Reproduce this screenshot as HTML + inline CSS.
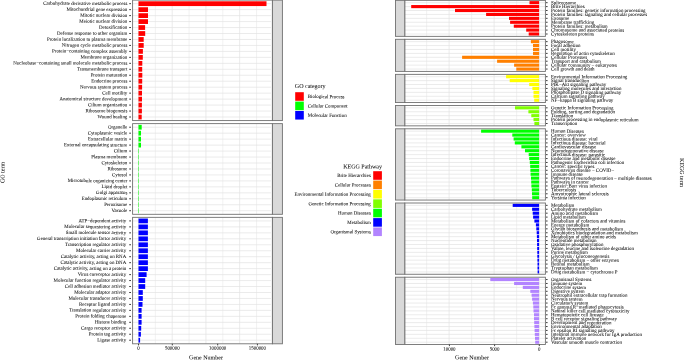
<!DOCTYPE html>
<html><head><meta charset="utf-8"><style>
html,body{margin:0;padding:0;background:#fff;}
svg{display:block;will-change:transform;}
text{font-family:"Liberation Serif",serif;font-size:4.92px;fill:#000000;stroke:#000000;stroke-width:0.15px;}
</style></head><body>
<svg width="685" height="360" viewBox="0 0 685 360">
<rect width="685" height="360" fill="#fff"/>
<rect x="132.6" y="0.10" width="139.80" height="120.49" fill="#fff"/>
<line x1="138.50" y1="0.10" x2="138.50" y2="120.59" stroke="#E2E2E2" stroke-width="0.7"/>
<line x1="155.36" y1="0.10" x2="155.36" y2="120.59" stroke="#E2E2E2" stroke-width="0.45"/>
<line x1="172.22" y1="0.10" x2="172.22" y2="120.59" stroke="#E2E2E2" stroke-width="0.7"/>
<line x1="189.08" y1="0.10" x2="189.08" y2="120.59" stroke="#E2E2E2" stroke-width="0.45"/>
<line x1="205.94" y1="0.10" x2="205.94" y2="120.59" stroke="#E2E2E2" stroke-width="0.7"/>
<line x1="222.80" y1="0.10" x2="222.80" y2="120.59" stroke="#E2E2E2" stroke-width="0.45"/>
<line x1="239.66" y1="0.10" x2="239.66" y2="120.59" stroke="#E2E2E2" stroke-width="0.7"/>
<line x1="256.52" y1="0.10" x2="256.52" y2="120.59" stroke="#E2E2E2" stroke-width="0.45"/>
<line x1="132.6" y1="3.68" x2="270.9" y2="3.68" stroke="#E2E2E2" stroke-width="0.7"/>
<line x1="132.6" y1="9.64" x2="270.9" y2="9.64" stroke="#E2E2E2" stroke-width="0.7"/>
<line x1="132.6" y1="15.61" x2="270.9" y2="15.61" stroke="#E2E2E2" stroke-width="0.7"/>
<line x1="132.6" y1="21.57" x2="270.9" y2="21.57" stroke="#E2E2E2" stroke-width="0.7"/>
<line x1="132.6" y1="27.54" x2="270.9" y2="27.54" stroke="#E2E2E2" stroke-width="0.7"/>
<line x1="132.6" y1="33.50" x2="270.9" y2="33.50" stroke="#E2E2E2" stroke-width="0.7"/>
<line x1="132.6" y1="39.47" x2="270.9" y2="39.47" stroke="#E2E2E2" stroke-width="0.7"/>
<line x1="132.6" y1="45.43" x2="270.9" y2="45.43" stroke="#E2E2E2" stroke-width="0.7"/>
<line x1="132.6" y1="51.40" x2="270.9" y2="51.40" stroke="#E2E2E2" stroke-width="0.7"/>
<line x1="132.6" y1="57.36" x2="270.9" y2="57.36" stroke="#E2E2E2" stroke-width="0.7"/>
<line x1="132.6" y1="63.33" x2="270.9" y2="63.33" stroke="#E2E2E2" stroke-width="0.7"/>
<line x1="132.6" y1="69.29" x2="270.9" y2="69.29" stroke="#E2E2E2" stroke-width="0.7"/>
<line x1="132.6" y1="75.26" x2="270.9" y2="75.26" stroke="#E2E2E2" stroke-width="0.7"/>
<line x1="132.6" y1="81.22" x2="270.9" y2="81.22" stroke="#E2E2E2" stroke-width="0.7"/>
<line x1="132.6" y1="87.19" x2="270.9" y2="87.19" stroke="#E2E2E2" stroke-width="0.7"/>
<line x1="132.6" y1="93.15" x2="270.9" y2="93.15" stroke="#E2E2E2" stroke-width="0.7"/>
<line x1="132.6" y1="99.12" x2="270.9" y2="99.12" stroke="#E2E2E2" stroke-width="0.7"/>
<line x1="132.6" y1="105.08" x2="270.9" y2="105.08" stroke="#E2E2E2" stroke-width="0.7"/>
<line x1="132.6" y1="111.05" x2="270.9" y2="111.05" stroke="#E2E2E2" stroke-width="0.7"/>
<line x1="132.6" y1="117.01" x2="270.9" y2="117.01" stroke="#E2E2E2" stroke-width="0.7"/>
<rect x="138.5" y="1.29" width="128.00" height="4.77" fill="#FF0000"/>
<line x1="129.2" y1="3.68" x2="131" y2="3.68" stroke="#2a2a2a" stroke-width="0.9"/>
<text transform="translate(127.30,4.98) rotate(0.1) scale(0.25)" style="font-size:19.68px" text-anchor="end">Carbohydrate derivative metabolic process</text>
<rect x="138.5" y="7.26" width="9.50" height="4.77" fill="#FF0000"/>
<line x1="129.2" y1="9.64" x2="131" y2="9.64" stroke="#2a2a2a" stroke-width="0.9"/>
<text transform="translate(127.30,10.94) rotate(0.1) scale(0.25)" style="font-size:19.68px" text-anchor="end">Mitochondrial gene expression</text>
<rect x="138.5" y="13.22" width="9.50" height="4.77" fill="#FF0000"/>
<line x1="129.2" y1="15.61" x2="131" y2="15.61" stroke="#2a2a2a" stroke-width="0.9"/>
<text transform="translate(127.30,16.91) rotate(0.1) scale(0.25)" style="font-size:19.68px" text-anchor="end">Mitotic nuclear division</text>
<rect x="138.5" y="19.19" width="9.50" height="4.77" fill="#FF0000"/>
<line x1="129.2" y1="21.57" x2="131" y2="21.57" stroke="#2a2a2a" stroke-width="0.9"/>
<text transform="translate(127.30,22.87) rotate(0.1) scale(0.25)" style="font-size:19.68px" text-anchor="end">Meiotic nuclear division</text>
<rect x="138.5" y="25.15" width="6.60" height="4.77" fill="#FF0000"/>
<line x1="129.2" y1="27.54" x2="131" y2="27.54" stroke="#2a2a2a" stroke-width="0.9"/>
<text transform="translate(127.30,28.84) rotate(0.1) scale(0.25)" style="font-size:19.68px" text-anchor="end">Detoxification</text>
<rect x="138.5" y="31.12" width="6.70" height="4.77" fill="#FF0000"/>
<line x1="129.2" y1="33.50" x2="131" y2="33.50" stroke="#2a2a2a" stroke-width="0.9"/>
<text transform="translate(127.30,34.80) rotate(0.1) scale(0.25)" style="font-size:19.68px" text-anchor="end">Defense response to other organism</text>
<rect x="138.5" y="37.08" width="5.20" height="4.77" fill="#FF0000"/>
<line x1="129.2" y1="39.47" x2="131" y2="39.47" stroke="#2a2a2a" stroke-width="0.9"/>
<text transform="translate(127.30,40.77) rotate(0.1) scale(0.25)" style="font-size:19.68px" text-anchor="end">Protein localization to plasma membrane</text>
<rect x="138.5" y="43.05" width="5.20" height="4.77" fill="#FF0000"/>
<line x1="129.2" y1="45.43" x2="131" y2="45.43" stroke="#2a2a2a" stroke-width="0.9"/>
<text transform="translate(127.30,46.73) rotate(0.1) scale(0.25)" style="font-size:19.68px" text-anchor="end">Nitrogen cycle metabolic process</text>
<rect x="138.5" y="49.01" width="4.40" height="4.77" fill="#FF0000"/>
<line x1="129.2" y1="51.40" x2="131" y2="51.40" stroke="#2a2a2a" stroke-width="0.9"/>
<text transform="translate(127.30,52.70) rotate(0.1) scale(0.25)" style="font-size:19.68px" text-anchor="end">Protein−containing complex assembly</text>
<rect x="138.5" y="54.98" width="4.30" height="4.77" fill="#FF0000"/>
<line x1="129.2" y1="57.36" x2="131" y2="57.36" stroke="#2a2a2a" stroke-width="0.9"/>
<text transform="translate(127.30,58.66) rotate(0.1) scale(0.25)" style="font-size:19.68px" text-anchor="end">Membrane organization</text>
<rect x="138.5" y="60.94" width="3.80" height="4.77" fill="#FF0000"/>
<line x1="129.2" y1="63.33" x2="131" y2="63.33" stroke="#2a2a2a" stroke-width="0.9"/>
<text transform="translate(127.30,64.63) rotate(0.1) scale(0.25)" style="font-size:19.68px" text-anchor="end">Nucleobase−containing small molecule metabolic process</text>
<rect x="138.5" y="66.91" width="3.70" height="4.77" fill="#FF0000"/>
<line x1="129.2" y1="69.29" x2="131" y2="69.29" stroke="#2a2a2a" stroke-width="0.9"/>
<text transform="translate(127.30,70.59) rotate(0.1) scale(0.25)" style="font-size:19.68px" text-anchor="end">Transmembrane transport</text>
<rect x="138.5" y="72.87" width="3.80" height="4.77" fill="#FF0000"/>
<line x1="129.2" y1="75.26" x2="131" y2="75.26" stroke="#2a2a2a" stroke-width="0.9"/>
<text transform="translate(127.30,76.56) rotate(0.1) scale(0.25)" style="font-size:19.68px" text-anchor="end">Protein maturation</text>
<rect x="138.5" y="78.84" width="3.70" height="4.77" fill="#FF0000"/>
<line x1="129.2" y1="81.22" x2="131" y2="81.22" stroke="#2a2a2a" stroke-width="0.9"/>
<text transform="translate(127.30,82.52) rotate(0.1) scale(0.25)" style="font-size:19.68px" text-anchor="end">Endocrine process</text>
<rect x="138.5" y="84.80" width="3.60" height="4.77" fill="#FF0000"/>
<line x1="129.2" y1="87.19" x2="131" y2="87.19" stroke="#2a2a2a" stroke-width="0.9"/>
<text transform="translate(127.30,88.49) rotate(0.1) scale(0.25)" style="font-size:19.68px" text-anchor="end">Nervous system process</text>
<rect x="138.5" y="90.77" width="3.50" height="4.77" fill="#FF0000"/>
<line x1="129.2" y1="93.15" x2="131" y2="93.15" stroke="#2a2a2a" stroke-width="0.9"/>
<text transform="translate(127.30,94.45) rotate(0.1) scale(0.25)" style="font-size:19.68px" text-anchor="end">Cell motility</text>
<rect x="138.5" y="96.73" width="3.50" height="4.77" fill="#FF0000"/>
<line x1="129.2" y1="99.12" x2="131" y2="99.12" stroke="#2a2a2a" stroke-width="0.9"/>
<text transform="translate(127.30,100.42) rotate(0.1) scale(0.25)" style="font-size:19.68px" text-anchor="end">Anatomical structure development</text>
<rect x="138.5" y="102.70" width="3.40" height="4.77" fill="#FF0000"/>
<line x1="129.2" y1="105.08" x2="131" y2="105.08" stroke="#2a2a2a" stroke-width="0.9"/>
<text transform="translate(127.30,106.38) rotate(0.1) scale(0.25)" style="font-size:19.68px" text-anchor="end">Cilium organization</text>
<rect x="138.5" y="108.66" width="3.40" height="4.77" fill="#FF0000"/>
<line x1="129.2" y1="111.05" x2="131" y2="111.05" stroke="#2a2a2a" stroke-width="0.9"/>
<text transform="translate(127.30,112.35) rotate(0.1) scale(0.25)" style="font-size:19.68px" text-anchor="end">Ribosome biogenesis</text>
<rect x="138.5" y="114.63" width="3.20" height="4.77" fill="#FF0000"/>
<line x1="129.2" y1="117.01" x2="131" y2="117.01" stroke="#2a2a2a" stroke-width="0.9"/>
<text transform="translate(127.30,118.31) rotate(0.1) scale(0.25)" style="font-size:19.68px" text-anchor="end">Wound healing</text>
<rect x="132.6" y="0.10" width="139.80" height="120.49" fill="none" stroke="#707070" stroke-width="0.9"/>
<rect x="272.4" y="0.10" width="10.00" height="120.49" fill="#D9D9D9" stroke="#707070" stroke-width="0.9"/>
<rect x="132.6" y="123.63" width="139.80" height="90.67" fill="#fff"/>
<line x1="138.50" y1="123.63" x2="138.50" y2="214.30" stroke="#E2E2E2" stroke-width="0.7"/>
<line x1="155.36" y1="123.63" x2="155.36" y2="214.30" stroke="#E2E2E2" stroke-width="0.45"/>
<line x1="172.22" y1="123.63" x2="172.22" y2="214.30" stroke="#E2E2E2" stroke-width="0.7"/>
<line x1="189.08" y1="123.63" x2="189.08" y2="214.30" stroke="#E2E2E2" stroke-width="0.45"/>
<line x1="205.94" y1="123.63" x2="205.94" y2="214.30" stroke="#E2E2E2" stroke-width="0.7"/>
<line x1="222.80" y1="123.63" x2="222.80" y2="214.30" stroke="#E2E2E2" stroke-width="0.45"/>
<line x1="239.66" y1="123.63" x2="239.66" y2="214.30" stroke="#E2E2E2" stroke-width="0.7"/>
<line x1="256.52" y1="123.63" x2="256.52" y2="214.30" stroke="#E2E2E2" stroke-width="0.45"/>
<line x1="132.6" y1="127.21" x2="270.9" y2="127.21" stroke="#E2E2E2" stroke-width="0.7"/>
<line x1="132.6" y1="133.18" x2="270.9" y2="133.18" stroke="#E2E2E2" stroke-width="0.7"/>
<line x1="132.6" y1="139.14" x2="270.9" y2="139.14" stroke="#E2E2E2" stroke-width="0.7"/>
<line x1="132.6" y1="145.11" x2="270.9" y2="145.11" stroke="#E2E2E2" stroke-width="0.7"/>
<line x1="132.6" y1="151.07" x2="270.9" y2="151.07" stroke="#E2E2E2" stroke-width="0.7"/>
<line x1="132.6" y1="157.04" x2="270.9" y2="157.04" stroke="#E2E2E2" stroke-width="0.7"/>
<line x1="132.6" y1="163.00" x2="270.9" y2="163.00" stroke="#E2E2E2" stroke-width="0.7"/>
<line x1="132.6" y1="168.97" x2="270.9" y2="168.97" stroke="#E2E2E2" stroke-width="0.7"/>
<line x1="132.6" y1="174.93" x2="270.9" y2="174.93" stroke="#E2E2E2" stroke-width="0.7"/>
<line x1="132.6" y1="180.90" x2="270.9" y2="180.90" stroke="#E2E2E2" stroke-width="0.7"/>
<line x1="132.6" y1="186.86" x2="270.9" y2="186.86" stroke="#E2E2E2" stroke-width="0.7"/>
<line x1="132.6" y1="192.83" x2="270.9" y2="192.83" stroke="#E2E2E2" stroke-width="0.7"/>
<line x1="132.6" y1="198.79" x2="270.9" y2="198.79" stroke="#E2E2E2" stroke-width="0.7"/>
<line x1="132.6" y1="204.76" x2="270.9" y2="204.76" stroke="#E2E2E2" stroke-width="0.7"/>
<line x1="132.6" y1="210.72" x2="270.9" y2="210.72" stroke="#E2E2E2" stroke-width="0.7"/>
<rect x="138.5" y="124.83" width="3.20" height="4.77" fill="#00FF00"/>
<line x1="129.2" y1="127.21" x2="131" y2="127.21" stroke="#2a2a2a" stroke-width="0.9"/>
<text transform="translate(127.30,128.51) rotate(0.1) scale(0.25)" style="font-size:19.68px" text-anchor="end">Organelle</text>
<rect x="138.5" y="130.79" width="2.50" height="4.77" fill="#00FF00"/>
<line x1="129.2" y1="133.18" x2="131" y2="133.18" stroke="#2a2a2a" stroke-width="0.9"/>
<text transform="translate(127.30,134.48) rotate(0.1) scale(0.25)" style="font-size:19.68px" text-anchor="end">Cytoplasmic vesicle</text>
<rect x="138.5" y="136.76" width="2.50" height="4.77" fill="#00FF00"/>
<line x1="129.2" y1="139.14" x2="131" y2="139.14" stroke="#2a2a2a" stroke-width="0.9"/>
<text transform="translate(127.30,140.44) rotate(0.1) scale(0.25)" style="font-size:19.68px" text-anchor="end">Extracellular matrix</text>
<rect x="138.5" y="142.72" width="2.50" height="4.77" fill="#00FF00"/>
<line x1="129.2" y1="145.11" x2="131" y2="145.11" stroke="#2a2a2a" stroke-width="0.9"/>
<text transform="translate(127.30,146.41) rotate(0.1) scale(0.25)" style="font-size:19.68px" text-anchor="end">External encapsulating structure</text>
<rect x="138.5" y="148.69" width="0.50" height="4.77" fill="#00FF00"/>
<line x1="129.2" y1="151.07" x2="131" y2="151.07" stroke="#2a2a2a" stroke-width="0.9"/>
<text transform="translate(127.30,152.37) rotate(0.1) scale(0.25)" style="font-size:19.68px" text-anchor="end">Cilium</text>
<rect x="138.5" y="154.65" width="0.50" height="4.77" fill="#00FF00"/>
<line x1="129.2" y1="157.04" x2="131" y2="157.04" stroke="#2a2a2a" stroke-width="0.9"/>
<text transform="translate(127.30,158.34) rotate(0.1) scale(0.25)" style="font-size:19.68px" text-anchor="end">Plasma membrane</text>
<rect x="138.5" y="160.62" width="0.50" height="4.77" fill="#00FF00"/>
<line x1="129.2" y1="163.00" x2="131" y2="163.00" stroke="#2a2a2a" stroke-width="0.9"/>
<text transform="translate(127.30,164.30) rotate(0.1) scale(0.25)" style="font-size:19.68px" text-anchor="end">Cytoskeleton</text>
<rect x="138.5" y="166.58" width="0.50" height="4.77" fill="#00FF00"/>
<line x1="129.2" y1="168.97" x2="131" y2="168.97" stroke="#2a2a2a" stroke-width="0.9"/>
<text transform="translate(127.30,170.27) rotate(0.1) scale(0.25)" style="font-size:19.68px" text-anchor="end">Ribosome</text>
<rect x="138.5" y="172.55" width="0.50" height="4.77" fill="#00FF00"/>
<line x1="129.2" y1="174.93" x2="131" y2="174.93" stroke="#2a2a2a" stroke-width="0.9"/>
<text transform="translate(127.30,176.23) rotate(0.1) scale(0.25)" style="font-size:19.68px" text-anchor="end">Cytosol</text>
<rect x="138.5" y="178.51" width="0.50" height="4.77" fill="#00FF00"/>
<line x1="129.2" y1="180.90" x2="131" y2="180.90" stroke="#2a2a2a" stroke-width="0.9"/>
<text transform="translate(127.30,182.20) rotate(0.1) scale(0.25)" style="font-size:19.68px" text-anchor="end">Microtubule organizing center</text>
<rect x="138.5" y="184.48" width="0.50" height="4.77" fill="#00FF00"/>
<line x1="129.2" y1="186.86" x2="131" y2="186.86" stroke="#2a2a2a" stroke-width="0.9"/>
<text transform="translate(127.30,188.16) rotate(0.1) scale(0.25)" style="font-size:19.68px" text-anchor="end">Lipid droplet</text>
<rect x="138.5" y="190.44" width="0.50" height="4.77" fill="#00FF00"/>
<line x1="129.2" y1="192.83" x2="131" y2="192.83" stroke="#2a2a2a" stroke-width="0.9"/>
<text transform="translate(127.30,194.13) rotate(0.1) scale(0.25)" style="font-size:19.68px" text-anchor="end">Golgi apparatus</text>
<rect x="138.5" y="196.41" width="0.50" height="4.77" fill="#00FF00"/>
<line x1="129.2" y1="198.79" x2="131" y2="198.79" stroke="#2a2a2a" stroke-width="0.9"/>
<text transform="translate(127.30,200.09) rotate(0.1) scale(0.25)" style="font-size:19.68px" text-anchor="end">Endoplasmic reticulum</text>
<rect x="138.5" y="202.37" width="0.50" height="4.77" fill="#00FF00"/>
<line x1="129.2" y1="204.76" x2="131" y2="204.76" stroke="#2a2a2a" stroke-width="0.9"/>
<text transform="translate(127.30,206.06) rotate(0.1) scale(0.25)" style="font-size:19.68px" text-anchor="end">Peroxisome</text>
<rect x="138.5" y="208.34" width="0.50" height="4.77" fill="#00FF00"/>
<line x1="129.2" y1="210.72" x2="131" y2="210.72" stroke="#2a2a2a" stroke-width="0.9"/>
<text transform="translate(127.30,212.02) rotate(0.1) scale(0.25)" style="font-size:19.68px" text-anchor="end">Vacuole</text>
<rect x="132.6" y="123.63" width="139.80" height="90.67" fill="none" stroke="#707070" stroke-width="0.9"/>
<rect x="272.4" y="123.63" width="10.00" height="90.67" fill="#D9D9D9" stroke="#707070" stroke-width="0.9"/>
<rect x="132.6" y="217.34" width="139.80" height="126.46" fill="#fff"/>
<line x1="138.50" y1="217.34" x2="138.50" y2="343.80" stroke="#E2E2E2" stroke-width="0.7"/>
<line x1="155.36" y1="217.34" x2="155.36" y2="343.80" stroke="#E2E2E2" stroke-width="0.45"/>
<line x1="172.22" y1="217.34" x2="172.22" y2="343.80" stroke="#E2E2E2" stroke-width="0.7"/>
<line x1="189.08" y1="217.34" x2="189.08" y2="343.80" stroke="#E2E2E2" stroke-width="0.45"/>
<line x1="205.94" y1="217.34" x2="205.94" y2="343.80" stroke="#E2E2E2" stroke-width="0.7"/>
<line x1="222.80" y1="217.34" x2="222.80" y2="343.80" stroke="#E2E2E2" stroke-width="0.45"/>
<line x1="239.66" y1="217.34" x2="239.66" y2="343.80" stroke="#E2E2E2" stroke-width="0.7"/>
<line x1="256.52" y1="217.34" x2="256.52" y2="343.80" stroke="#E2E2E2" stroke-width="0.45"/>
<line x1="132.6" y1="220.92" x2="270.9" y2="220.92" stroke="#E2E2E2" stroke-width="0.7"/>
<line x1="132.6" y1="226.89" x2="270.9" y2="226.89" stroke="#E2E2E2" stroke-width="0.7"/>
<line x1="132.6" y1="232.85" x2="270.9" y2="232.85" stroke="#E2E2E2" stroke-width="0.7"/>
<line x1="132.6" y1="238.81" x2="270.9" y2="238.81" stroke="#E2E2E2" stroke-width="0.7"/>
<line x1="132.6" y1="244.78" x2="270.9" y2="244.78" stroke="#E2E2E2" stroke-width="0.7"/>
<line x1="132.6" y1="250.75" x2="270.9" y2="250.75" stroke="#E2E2E2" stroke-width="0.7"/>
<line x1="132.6" y1="256.71" x2="270.9" y2="256.71" stroke="#E2E2E2" stroke-width="0.7"/>
<line x1="132.6" y1="262.68" x2="270.9" y2="262.68" stroke="#E2E2E2" stroke-width="0.7"/>
<line x1="132.6" y1="268.64" x2="270.9" y2="268.64" stroke="#E2E2E2" stroke-width="0.7"/>
<line x1="132.6" y1="274.61" x2="270.9" y2="274.61" stroke="#E2E2E2" stroke-width="0.7"/>
<line x1="132.6" y1="280.57" x2="270.9" y2="280.57" stroke="#E2E2E2" stroke-width="0.7"/>
<line x1="132.6" y1="286.53" x2="270.9" y2="286.53" stroke="#E2E2E2" stroke-width="0.7"/>
<line x1="132.6" y1="292.50" x2="270.9" y2="292.50" stroke="#E2E2E2" stroke-width="0.7"/>
<line x1="132.6" y1="298.46" x2="270.9" y2="298.46" stroke="#E2E2E2" stroke-width="0.7"/>
<line x1="132.6" y1="304.43" x2="270.9" y2="304.43" stroke="#E2E2E2" stroke-width="0.7"/>
<line x1="132.6" y1="310.39" x2="270.9" y2="310.39" stroke="#E2E2E2" stroke-width="0.7"/>
<line x1="132.6" y1="316.36" x2="270.9" y2="316.36" stroke="#E2E2E2" stroke-width="0.7"/>
<line x1="132.6" y1="322.32" x2="270.9" y2="322.32" stroke="#E2E2E2" stroke-width="0.7"/>
<line x1="132.6" y1="328.29" x2="270.9" y2="328.29" stroke="#E2E2E2" stroke-width="0.7"/>
<line x1="132.6" y1="334.25" x2="270.9" y2="334.25" stroke="#E2E2E2" stroke-width="0.7"/>
<line x1="132.6" y1="340.22" x2="270.9" y2="340.22" stroke="#E2E2E2" stroke-width="0.7"/>
<rect x="138.5" y="218.53" width="9.40" height="4.77" fill="#0000FF"/>
<line x1="129.2" y1="220.92" x2="131" y2="220.92" stroke="#2a2a2a" stroke-width="0.9"/>
<text transform="translate(126.20,222.22) rotate(0.1) scale(0.25)" style="font-size:19.68px" text-anchor="end">ATP−dependent activity</text>
<rect x="138.5" y="224.50" width="9.40" height="4.77" fill="#0000FF"/>
<line x1="129.2" y1="226.89" x2="131" y2="226.89" stroke="#2a2a2a" stroke-width="0.9"/>
<text transform="translate(126.20,228.19) rotate(0.1) scale(0.25)" style="font-size:19.68px" text-anchor="end">Molecular sequestering activity</text>
<rect x="138.5" y="230.46" width="9.40" height="4.77" fill="#0000FF"/>
<line x1="129.2" y1="232.85" x2="131" y2="232.85" stroke="#2a2a2a" stroke-width="0.9"/>
<text transform="translate(126.20,234.15) rotate(0.1) scale(0.25)" style="font-size:19.68px" text-anchor="end">Small molecule sensor activity</text>
<rect x="138.5" y="236.43" width="9.40" height="4.77" fill="#0000FF"/>
<line x1="129.2" y1="238.81" x2="131" y2="238.81" stroke="#2a2a2a" stroke-width="0.9"/>
<text transform="translate(126.20,240.12) rotate(0.1) scale(0.25)" style="font-size:19.68px" text-anchor="end">General transcription initiation factor activity</text>
<rect x="138.5" y="242.39" width="9.40" height="4.77" fill="#0000FF"/>
<line x1="129.2" y1="244.78" x2="131" y2="244.78" stroke="#2a2a2a" stroke-width="0.9"/>
<text transform="translate(126.20,246.08) rotate(0.1) scale(0.25)" style="font-size:19.68px" text-anchor="end">Transcription regulator activity</text>
<rect x="138.5" y="248.36" width="9.40" height="4.77" fill="#0000FF"/>
<line x1="129.2" y1="250.75" x2="131" y2="250.75" stroke="#2a2a2a" stroke-width="0.9"/>
<text transform="translate(126.20,252.05) rotate(0.1) scale(0.25)" style="font-size:19.68px" text-anchor="end">Molecular carrier activity</text>
<rect x="138.5" y="254.32" width="9.40" height="4.77" fill="#0000FF"/>
<line x1="129.2" y1="256.71" x2="131" y2="256.71" stroke="#2a2a2a" stroke-width="0.9"/>
<text transform="translate(126.20,258.01) rotate(0.1) scale(0.25)" style="font-size:19.68px" text-anchor="end">Catalytic activity, acting on RNA</text>
<rect x="138.5" y="260.29" width="9.40" height="4.77" fill="#0000FF"/>
<line x1="129.2" y1="262.68" x2="131" y2="262.68" stroke="#2a2a2a" stroke-width="0.9"/>
<text transform="translate(126.20,263.98) rotate(0.1) scale(0.25)" style="font-size:19.68px" text-anchor="end">Catalytic activity, acting on DNA</text>
<rect x="138.5" y="266.25" width="9.40" height="4.77" fill="#0000FF"/>
<line x1="129.2" y1="268.64" x2="131" y2="268.64" stroke="#2a2a2a" stroke-width="0.9"/>
<text transform="translate(126.20,269.94) rotate(0.1) scale(0.25)" style="font-size:19.68px" text-anchor="end">Catalytic activity, acting on a protein</text>
<rect x="138.5" y="272.22" width="8.10" height="4.77" fill="#0000FF"/>
<line x1="129.2" y1="274.61" x2="131" y2="274.61" stroke="#2a2a2a" stroke-width="0.9"/>
<text transform="translate(126.20,275.91) rotate(0.1) scale(0.25)" style="font-size:19.68px" text-anchor="end">Virus coreceptor activity</text>
<rect x="138.5" y="278.18" width="6.70" height="4.77" fill="#0000FF"/>
<line x1="129.2" y1="280.57" x2="131" y2="280.57" stroke="#2a2a2a" stroke-width="0.9"/>
<text transform="translate(126.20,281.87) rotate(0.1) scale(0.25)" style="font-size:19.68px" text-anchor="end">Molecular function regulator activity</text>
<rect x="138.5" y="284.15" width="6.70" height="4.77" fill="#0000FF"/>
<line x1="129.2" y1="286.53" x2="131" y2="286.53" stroke="#2a2a2a" stroke-width="0.9"/>
<text transform="translate(126.20,287.83) rotate(0.1) scale(0.25)" style="font-size:19.68px" text-anchor="end">Cell adhesion mediator activity</text>
<rect x="138.5" y="290.11" width="4.30" height="4.77" fill="#0000FF"/>
<line x1="129.2" y1="292.50" x2="131" y2="292.50" stroke="#2a2a2a" stroke-width="0.9"/>
<text transform="translate(126.20,293.80) rotate(0.1) scale(0.25)" style="font-size:19.68px" text-anchor="end">Molecular adaptor activity</text>
<rect x="138.5" y="296.08" width="4.30" height="4.77" fill="#0000FF"/>
<line x1="129.2" y1="298.46" x2="131" y2="298.46" stroke="#2a2a2a" stroke-width="0.9"/>
<text transform="translate(126.20,299.76) rotate(0.1) scale(0.25)" style="font-size:19.68px" text-anchor="end">Molecular transducer activity</text>
<rect x="138.5" y="302.04" width="4.00" height="4.77" fill="#0000FF"/>
<line x1="129.2" y1="304.43" x2="131" y2="304.43" stroke="#2a2a2a" stroke-width="0.9"/>
<text transform="translate(126.20,305.73) rotate(0.1) scale(0.25)" style="font-size:19.68px" text-anchor="end">Receptor ligand activity</text>
<rect x="138.5" y="308.01" width="3.10" height="4.77" fill="#0000FF"/>
<line x1="129.2" y1="310.39" x2="131" y2="310.39" stroke="#2a2a2a" stroke-width="0.9"/>
<text transform="translate(126.20,311.69) rotate(0.1) scale(0.25)" style="font-size:19.68px" text-anchor="end">Translation regulator activity</text>
<rect x="138.5" y="313.97" width="3.10" height="4.77" fill="#0000FF"/>
<line x1="129.2" y1="316.36" x2="131" y2="316.36" stroke="#2a2a2a" stroke-width="0.9"/>
<text transform="translate(126.20,317.66) rotate(0.1) scale(0.25)" style="font-size:19.68px" text-anchor="end">Protein folding chaperone</text>
<rect x="138.5" y="319.94" width="3.10" height="4.77" fill="#0000FF"/>
<line x1="129.2" y1="322.32" x2="131" y2="322.32" stroke="#2a2a2a" stroke-width="0.9"/>
<text transform="translate(126.20,323.62) rotate(0.1) scale(0.25)" style="font-size:19.68px" text-anchor="end">Histone binding</text>
<rect x="138.5" y="325.90" width="2.70" height="4.77" fill="#0000FF"/>
<line x1="129.2" y1="328.29" x2="131" y2="328.29" stroke="#2a2a2a" stroke-width="0.9"/>
<text transform="translate(126.20,329.59) rotate(0.1) scale(0.25)" style="font-size:19.68px" text-anchor="end">Cargo receptor activity</text>
<rect x="138.5" y="331.87" width="2.40" height="4.77" fill="#0000FF"/>
<line x1="129.2" y1="334.25" x2="131" y2="334.25" stroke="#2a2a2a" stroke-width="0.9"/>
<text transform="translate(126.20,335.56) rotate(0.1) scale(0.25)" style="font-size:19.68px" text-anchor="end">Protein tag activity</text>
<rect x="138.5" y="337.83" width="1.60" height="4.77" fill="#0000FF"/>
<line x1="129.2" y1="340.22" x2="131" y2="340.22" stroke="#2a2a2a" stroke-width="0.9"/>
<text transform="translate(126.20,341.52) rotate(0.1) scale(0.25)" style="font-size:19.68px" text-anchor="end">Ligase activity</text>
<rect x="132.6" y="217.34" width="139.80" height="126.46" fill="none" stroke="#707070" stroke-width="0.9"/>
<rect x="272.4" y="217.34" width="10.00" height="126.46" fill="#D9D9D9" stroke="#707070" stroke-width="0.9"/>
<line x1="138.5" y1="343.80" x2="138.5" y2="345.40" stroke="#2a2a2a" stroke-width="0.9"/>
<text transform="translate(138.50,349.60) rotate(0.1) scale(0.25)" style="font-size:19.68px" text-anchor="middle">0</text>
<line x1="172.3" y1="343.80" x2="172.3" y2="345.40" stroke="#2a2a2a" stroke-width="0.9"/>
<text transform="translate(172.30,349.60) rotate(0.1) scale(0.25)" style="font-size:19.68px" text-anchor="middle">500000</text>
<line x1="217.7" y1="343.80" x2="217.7" y2="345.40" stroke="#2a2a2a" stroke-width="0.9"/>
<text transform="translate(217.70,349.60) rotate(0.1) scale(0.25)" style="font-size:19.68px" text-anchor="middle">1000000</text>
<line x1="257.4" y1="343.80" x2="257.4" y2="345.40" stroke="#2a2a2a" stroke-width="0.9"/>
<text transform="translate(257.40,349.60) rotate(0.1) scale(0.25)" style="font-size:19.68px" text-anchor="middle">1500000</text>
<text transform="translate(206.00,359.40) rotate(0.1) scale(0.25)" style="font-size:24.00px" text-anchor="middle">Gene Number</text>
<text transform="translate(4.60,172.50) rotate(-89.9) scale(0.25)" style="font-size:24.00px" text-anchor="middle">GO term</text>
<rect x="404.75" y="0.34" width="140.65" height="36.02" fill="#fff"/>
<line x1="539.10" y1="0.34" x2="539.10" y2="36.35" stroke="#E2E2E2" stroke-width="0.7"/>
<line x1="516.60" y1="0.34" x2="516.60" y2="36.35" stroke="#E2E2E2" stroke-width="0.45"/>
<line x1="494.10" y1="0.34" x2="494.10" y2="36.35" stroke="#E2E2E2" stroke-width="0.7"/>
<line x1="471.60" y1="0.34" x2="471.60" y2="36.35" stroke="#E2E2E2" stroke-width="0.45"/>
<line x1="449.10" y1="0.34" x2="449.10" y2="36.35" stroke="#E2E2E2" stroke-width="0.7"/>
<line x1="426.60" y1="0.34" x2="426.60" y2="36.35" stroke="#E2E2E2" stroke-width="0.45"/>
<line x1="404.75" y1="2.68" x2="545.4" y2="2.68" stroke="#E2E2E2" stroke-width="0.7"/>
<line x1="404.75" y1="6.60" x2="545.4" y2="6.60" stroke="#E2E2E2" stroke-width="0.7"/>
<line x1="404.75" y1="10.51" x2="545.4" y2="10.51" stroke="#E2E2E2" stroke-width="0.7"/>
<line x1="404.75" y1="14.43" x2="545.4" y2="14.43" stroke="#E2E2E2" stroke-width="0.7"/>
<line x1="404.75" y1="18.34" x2="545.4" y2="18.34" stroke="#E2E2E2" stroke-width="0.7"/>
<line x1="404.75" y1="22.26" x2="545.4" y2="22.26" stroke="#E2E2E2" stroke-width="0.7"/>
<line x1="404.75" y1="26.17" x2="545.4" y2="26.17" stroke="#E2E2E2" stroke-width="0.7"/>
<line x1="404.75" y1="30.09" x2="545.4" y2="30.09" stroke="#E2E2E2" stroke-width="0.7"/>
<line x1="404.75" y1="34.00" x2="545.4" y2="34.00" stroke="#E2E2E2" stroke-width="0.7"/>
<rect x="529.5" y="1.12" width="9.60" height="3.13" fill="#FF0000"/>
<line x1="546" y1="2.68" x2="547.6" y2="2.68" stroke="#2a2a2a" stroke-width="0.9"/>
<text transform="translate(551.00,4.13) rotate(0.1) scale(0.25)" style="font-size:19.68px">Spliceosome</text>
<rect x="411.2" y="5.03" width="127.90" height="3.13" fill="#FF0000"/>
<line x1="546" y1="6.60" x2="547.6" y2="6.60" stroke="#2a2a2a" stroke-width="0.9"/>
<text transform="translate(551.00,8.05) rotate(0.1) scale(0.25)" style="font-size:19.68px">Brite Hierarchies</text>
<rect x="455.0" y="8.95" width="84.10" height="3.13" fill="#FF0000"/>
<line x1="546" y1="10.51" x2="547.6" y2="10.51" stroke="#2a2a2a" stroke-width="0.9"/>
<text transform="translate(551.00,11.96) rotate(0.1) scale(0.25)" style="font-size:19.68px">Protein families: genetic information processing</text>
<rect x="486.1" y="12.86" width="53.00" height="3.13" fill="#FF0000"/>
<line x1="546" y1="14.43" x2="547.6" y2="14.43" stroke="#2a2a2a" stroke-width="0.9"/>
<text transform="translate(551.00,15.88) rotate(0.1) scale(0.25)" style="font-size:19.68px">Protein families: signaling and cellular processes</text>
<rect x="509.0" y="16.78" width="30.10" height="3.13" fill="#FF0000"/>
<line x1="546" y1="18.34" x2="547.6" y2="18.34" stroke="#2a2a2a" stroke-width="0.9"/>
<text transform="translate(551.00,19.79) rotate(0.1) scale(0.25)" style="font-size:19.68px">Exosome</text>
<rect x="510.1" y="20.69" width="29.00" height="3.13" fill="#FF0000"/>
<line x1="546" y1="22.26" x2="547.6" y2="22.26" stroke="#2a2a2a" stroke-width="0.9"/>
<text transform="translate(551.00,23.71) rotate(0.1) scale(0.25)" style="font-size:19.68px">Membrane trafficking</text>
<rect x="513.8" y="24.61" width="25.30" height="3.13" fill="#FF0000"/>
<line x1="546" y1="26.17" x2="547.6" y2="26.17" stroke="#2a2a2a" stroke-width="0.9"/>
<text transform="translate(551.00,27.62) rotate(0.1) scale(0.25)" style="font-size:19.68px">Protein families: metabolism</text>
<rect x="526.2" y="28.52" width="12.90" height="3.13" fill="#FF0000"/>
<line x1="546" y1="30.09" x2="547.6" y2="30.09" stroke="#2a2a2a" stroke-width="0.9"/>
<text transform="translate(551.00,31.54) rotate(0.1) scale(0.25)" style="font-size:19.68px">Chromosome and associated proteins</text>
<rect x="528.7" y="32.44" width="10.40" height="3.13" fill="#FF0000"/>
<line x1="546" y1="34.00" x2="547.6" y2="34.00" stroke="#2a2a2a" stroke-width="0.9"/>
<text transform="translate(551.00,35.45) rotate(0.1) scale(0.25)" style="font-size:19.68px">Cytoskeleton proteins</text>
<rect x="404.75" y="0.34" width="140.65" height="36.02" fill="none" stroke="#707070" stroke-width="0.9"/>
<rect x="395.5" y="0.34" width="9.25" height="36.02" fill="#D9D9D9" stroke="#707070" stroke-width="0.9"/>
<rect x="404.75" y="39.30" width="140.65" height="32.10" fill="#fff"/>
<line x1="539.10" y1="39.30" x2="539.10" y2="71.41" stroke="#E2E2E2" stroke-width="0.7"/>
<line x1="516.60" y1="39.30" x2="516.60" y2="71.41" stroke="#E2E2E2" stroke-width="0.45"/>
<line x1="494.10" y1="39.30" x2="494.10" y2="71.41" stroke="#E2E2E2" stroke-width="0.7"/>
<line x1="471.60" y1="39.30" x2="471.60" y2="71.41" stroke="#E2E2E2" stroke-width="0.45"/>
<line x1="449.10" y1="39.30" x2="449.10" y2="71.41" stroke="#E2E2E2" stroke-width="0.7"/>
<line x1="426.60" y1="39.30" x2="426.60" y2="71.41" stroke="#E2E2E2" stroke-width="0.45"/>
<line x1="404.75" y1="41.65" x2="545.4" y2="41.65" stroke="#E2E2E2" stroke-width="0.7"/>
<line x1="404.75" y1="45.57" x2="545.4" y2="45.57" stroke="#E2E2E2" stroke-width="0.7"/>
<line x1="404.75" y1="49.48" x2="545.4" y2="49.48" stroke="#E2E2E2" stroke-width="0.7"/>
<line x1="404.75" y1="53.40" x2="545.4" y2="53.40" stroke="#E2E2E2" stroke-width="0.7"/>
<line x1="404.75" y1="57.31" x2="545.4" y2="57.31" stroke="#E2E2E2" stroke-width="0.7"/>
<line x1="404.75" y1="61.23" x2="545.4" y2="61.23" stroke="#E2E2E2" stroke-width="0.7"/>
<line x1="404.75" y1="65.14" x2="545.4" y2="65.14" stroke="#E2E2E2" stroke-width="0.7"/>
<line x1="404.75" y1="69.06" x2="545.4" y2="69.06" stroke="#E2E2E2" stroke-width="0.7"/>
<rect x="530.9" y="40.09" width="8.20" height="3.13" fill="#FF8000"/>
<line x1="546" y1="41.65" x2="547.6" y2="41.65" stroke="#2a2a2a" stroke-width="0.9"/>
<text transform="translate(551.00,43.10) rotate(0.1) scale(0.25)" style="font-size:19.68px">Phagosome</text>
<rect x="533.0" y="44.00" width="6.10" height="3.13" fill="#FF8000"/>
<line x1="546" y1="45.57" x2="547.6" y2="45.57" stroke="#2a2a2a" stroke-width="0.9"/>
<text transform="translate(551.00,47.02) rotate(0.1) scale(0.25)" style="font-size:19.68px">Focal adhesion</text>
<rect x="533.0" y="47.92" width="6.10" height="3.13" fill="#FF8000"/>
<line x1="546" y1="49.48" x2="547.6" y2="49.48" stroke="#2a2a2a" stroke-width="0.9"/>
<text transform="translate(551.00,50.93) rotate(0.1) scale(0.25)" style="font-size:19.68px">Cell motility</text>
<rect x="533.0" y="51.83" width="6.10" height="3.13" fill="#FF8000"/>
<line x1="546" y1="53.40" x2="547.6" y2="53.40" stroke="#2a2a2a" stroke-width="0.9"/>
<text transform="translate(551.00,54.85) rotate(0.1) scale(0.25)" style="font-size:19.68px">Regulation of actin cytoskeleton</text>
<rect x="462.1" y="55.75" width="77.00" height="3.13" fill="#FF8000"/>
<line x1="546" y1="57.31" x2="547.6" y2="57.31" stroke="#2a2a2a" stroke-width="0.9"/>
<text transform="translate(551.00,58.76) rotate(0.1) scale(0.25)" style="font-size:19.68px">Cellular Processes</text>
<rect x="497.1" y="59.66" width="42.00" height="3.13" fill="#FF8000"/>
<line x1="546" y1="61.23" x2="547.6" y2="61.23" stroke="#2a2a2a" stroke-width="0.9"/>
<text transform="translate(551.00,62.68) rotate(0.1) scale(0.25)" style="font-size:19.68px">Transport and catabolism</text>
<rect x="514.1" y="63.58" width="25.00" height="3.13" fill="#FF8000"/>
<line x1="546" y1="65.14" x2="547.6" y2="65.14" stroke="#2a2a2a" stroke-width="0.9"/>
<text transform="translate(551.00,66.59) rotate(0.1) scale(0.25)" style="font-size:19.68px">Cellular community − eukaryotes</text>
<rect x="516.3" y="67.49" width="22.80" height="3.13" fill="#FF8000"/>
<line x1="546" y1="69.06" x2="547.6" y2="69.06" stroke="#2a2a2a" stroke-width="0.9"/>
<text transform="translate(551.00,70.51) rotate(0.1) scale(0.25)" style="font-size:19.68px">Cell growth and death</text>
<rect x="404.75" y="39.30" width="140.65" height="32.10" fill="none" stroke="#707070" stroke-width="0.9"/>
<rect x="395.5" y="39.30" width="9.25" height="32.10" fill="#D9D9D9" stroke="#707070" stroke-width="0.9"/>
<rect x="404.75" y="74.36" width="140.65" height="28.19" fill="#fff"/>
<line x1="539.10" y1="74.36" x2="539.10" y2="102.54" stroke="#E2E2E2" stroke-width="0.7"/>
<line x1="516.60" y1="74.36" x2="516.60" y2="102.54" stroke="#E2E2E2" stroke-width="0.45"/>
<line x1="494.10" y1="74.36" x2="494.10" y2="102.54" stroke="#E2E2E2" stroke-width="0.7"/>
<line x1="471.60" y1="74.36" x2="471.60" y2="102.54" stroke="#E2E2E2" stroke-width="0.45"/>
<line x1="449.10" y1="74.36" x2="449.10" y2="102.54" stroke="#E2E2E2" stroke-width="0.7"/>
<line x1="426.60" y1="74.36" x2="426.60" y2="102.54" stroke="#E2E2E2" stroke-width="0.45"/>
<line x1="404.75" y1="76.70" x2="545.4" y2="76.70" stroke="#E2E2E2" stroke-width="0.7"/>
<line x1="404.75" y1="80.62" x2="545.4" y2="80.62" stroke="#E2E2E2" stroke-width="0.7"/>
<line x1="404.75" y1="84.53" x2="545.4" y2="84.53" stroke="#E2E2E2" stroke-width="0.7"/>
<line x1="404.75" y1="88.45" x2="545.4" y2="88.45" stroke="#E2E2E2" stroke-width="0.7"/>
<line x1="404.75" y1="92.36" x2="545.4" y2="92.36" stroke="#E2E2E2" stroke-width="0.7"/>
<line x1="404.75" y1="96.28" x2="545.4" y2="96.28" stroke="#E2E2E2" stroke-width="0.7"/>
<line x1="404.75" y1="100.19" x2="545.4" y2="100.19" stroke="#E2E2E2" stroke-width="0.7"/>
<rect x="506.1" y="75.14" width="33.00" height="3.13" fill="#FFFF00"/>
<line x1="546" y1="76.70" x2="547.6" y2="76.70" stroke="#2a2a2a" stroke-width="0.9"/>
<text transform="translate(551.00,78.16) rotate(0.1) scale(0.25)" style="font-size:19.68px">Environmental Information Processing</text>
<rect x="509.7" y="79.05" width="29.40" height="3.13" fill="#FFFF00"/>
<line x1="546" y1="80.62" x2="547.6" y2="80.62" stroke="#2a2a2a" stroke-width="0.9"/>
<text transform="translate(551.00,82.07) rotate(0.1) scale(0.25)" style="font-size:19.68px">Signal transduction</text>
<rect x="529.2" y="82.97" width="9.90" height="3.13" fill="#FFFF00"/>
<line x1="546" y1="84.53" x2="547.6" y2="84.53" stroke="#2a2a2a" stroke-width="0.9"/>
<text transform="translate(551.00,85.98) rotate(0.1) scale(0.25)" style="font-size:19.68px">PIK−Akt signaling pathway</text>
<rect x="532.4" y="86.88" width="6.70" height="3.13" fill="#FFFF00"/>
<line x1="546" y1="88.45" x2="547.6" y2="88.45" stroke="#2a2a2a" stroke-width="0.9"/>
<text transform="translate(551.00,89.90) rotate(0.1) scale(0.25)" style="font-size:19.68px">Signaling molecules and interaction</text>
<rect x="533.5" y="90.80" width="5.60" height="3.13" fill="#FFFF00"/>
<line x1="546" y1="92.36" x2="547.6" y2="92.36" stroke="#2a2a2a" stroke-width="0.9"/>
<text transform="translate(551.00,93.81) rotate(0.1) scale(0.25)" style="font-size:19.68px">Phospholipase D signaling pathway</text>
<rect x="533.5" y="94.71" width="5.60" height="3.13" fill="#FFFF00"/>
<line x1="546" y1="96.28" x2="547.6" y2="96.28" stroke="#2a2a2a" stroke-width="0.9"/>
<text transform="translate(551.00,97.73) rotate(0.1) scale(0.25)" style="font-size:19.68px">Calcium signaling pathway</text>
<rect x="534.2" y="98.63" width="4.90" height="3.13" fill="#FFFF00"/>
<line x1="546" y1="100.19" x2="547.6" y2="100.19" stroke="#2a2a2a" stroke-width="0.9"/>
<text transform="translate(551.00,101.64) rotate(0.1) scale(0.25)" style="font-size:19.68px">NF−kappa B signaling pathway</text>
<rect x="404.75" y="74.36" width="140.65" height="28.19" fill="none" stroke="#707070" stroke-width="0.9"/>
<rect x="395.5" y="74.36" width="9.25" height="28.19" fill="#D9D9D9" stroke="#707070" stroke-width="0.9"/>
<rect x="404.75" y="105.49" width="140.65" height="20.36" fill="#fff"/>
<line x1="539.10" y1="105.49" x2="539.10" y2="125.85" stroke="#E2E2E2" stroke-width="0.7"/>
<line x1="516.60" y1="105.49" x2="516.60" y2="125.85" stroke="#E2E2E2" stroke-width="0.45"/>
<line x1="494.10" y1="105.49" x2="494.10" y2="125.85" stroke="#E2E2E2" stroke-width="0.7"/>
<line x1="471.60" y1="105.49" x2="471.60" y2="125.85" stroke="#E2E2E2" stroke-width="0.45"/>
<line x1="449.10" y1="105.49" x2="449.10" y2="125.85" stroke="#E2E2E2" stroke-width="0.7"/>
<line x1="426.60" y1="105.49" x2="426.60" y2="125.85" stroke="#E2E2E2" stroke-width="0.45"/>
<line x1="404.75" y1="107.84" x2="545.4" y2="107.84" stroke="#E2E2E2" stroke-width="0.7"/>
<line x1="404.75" y1="111.76" x2="545.4" y2="111.76" stroke="#E2E2E2" stroke-width="0.7"/>
<line x1="404.75" y1="115.67" x2="545.4" y2="115.67" stroke="#E2E2E2" stroke-width="0.7"/>
<line x1="404.75" y1="119.59" x2="545.4" y2="119.59" stroke="#E2E2E2" stroke-width="0.7"/>
<line x1="404.75" y1="123.50" x2="545.4" y2="123.50" stroke="#E2E2E2" stroke-width="0.7"/>
<rect x="515.0" y="106.28" width="24.10" height="3.13" fill="#80FF00"/>
<line x1="546" y1="107.84" x2="547.6" y2="107.84" stroke="#2a2a2a" stroke-width="0.9"/>
<text transform="translate(551.00,109.29) rotate(0.1) scale(0.25)" style="font-size:19.68px">Genetic Information Processing</text>
<rect x="528.4" y="110.19" width="10.70" height="3.13" fill="#80FF00"/>
<line x1="546" y1="111.76" x2="547.6" y2="111.76" stroke="#2a2a2a" stroke-width="0.9"/>
<text transform="translate(551.00,113.21) rotate(0.1) scale(0.25)" style="font-size:19.68px">Folding, sorting and degradation</text>
<rect x="531.3" y="114.11" width="7.80" height="3.13" fill="#80FF00"/>
<line x1="546" y1="115.67" x2="547.6" y2="115.67" stroke="#2a2a2a" stroke-width="0.9"/>
<text transform="translate(551.00,117.12) rotate(0.1) scale(0.25)" style="font-size:19.68px">Translation</text>
<rect x="533.5" y="118.02" width="5.60" height="3.13" fill="#80FF00"/>
<line x1="546" y1="119.59" x2="547.6" y2="119.59" stroke="#2a2a2a" stroke-width="0.9"/>
<text transform="translate(551.00,121.04) rotate(0.1) scale(0.25)" style="font-size:19.68px">Protein processing in endoplasmic reticulum</text>
<rect x="534.4" y="121.94" width="4.70" height="3.13" fill="#80FF00"/>
<line x1="546" y1="123.50" x2="547.6" y2="123.50" stroke="#2a2a2a" stroke-width="0.9"/>
<text transform="translate(551.00,124.95) rotate(0.1) scale(0.25)" style="font-size:19.68px">Transcription</text>
<rect x="404.75" y="105.49" width="140.65" height="20.36" fill="none" stroke="#707070" stroke-width="0.9"/>
<rect x="395.5" y="105.49" width="9.25" height="20.36" fill="#D9D9D9" stroke="#707070" stroke-width="0.9"/>
<rect x="404.75" y="128.80" width="140.65" height="71.25" fill="#fff"/>
<line x1="539.10" y1="128.80" x2="539.10" y2="200.06" stroke="#E2E2E2" stroke-width="0.7"/>
<line x1="516.60" y1="128.80" x2="516.60" y2="200.06" stroke="#E2E2E2" stroke-width="0.45"/>
<line x1="494.10" y1="128.80" x2="494.10" y2="200.06" stroke="#E2E2E2" stroke-width="0.7"/>
<line x1="471.60" y1="128.80" x2="471.60" y2="200.06" stroke="#E2E2E2" stroke-width="0.45"/>
<line x1="449.10" y1="128.80" x2="449.10" y2="200.06" stroke="#E2E2E2" stroke-width="0.7"/>
<line x1="426.60" y1="128.80" x2="426.60" y2="200.06" stroke="#E2E2E2" stroke-width="0.45"/>
<line x1="404.75" y1="131.15" x2="545.4" y2="131.15" stroke="#E2E2E2" stroke-width="0.7"/>
<line x1="404.75" y1="135.07" x2="545.4" y2="135.07" stroke="#E2E2E2" stroke-width="0.7"/>
<line x1="404.75" y1="138.98" x2="545.4" y2="138.98" stroke="#E2E2E2" stroke-width="0.7"/>
<line x1="404.75" y1="142.90" x2="545.4" y2="142.90" stroke="#E2E2E2" stroke-width="0.7"/>
<line x1="404.75" y1="146.81" x2="545.4" y2="146.81" stroke="#E2E2E2" stroke-width="0.7"/>
<line x1="404.75" y1="150.73" x2="545.4" y2="150.73" stroke="#E2E2E2" stroke-width="0.7"/>
<line x1="404.75" y1="154.64" x2="545.4" y2="154.64" stroke="#E2E2E2" stroke-width="0.7"/>
<line x1="404.75" y1="158.56" x2="545.4" y2="158.56" stroke="#E2E2E2" stroke-width="0.7"/>
<line x1="404.75" y1="162.47" x2="545.4" y2="162.47" stroke="#E2E2E2" stroke-width="0.7"/>
<line x1="404.75" y1="166.39" x2="545.4" y2="166.39" stroke="#E2E2E2" stroke-width="0.7"/>
<line x1="404.75" y1="170.30" x2="545.4" y2="170.30" stroke="#E2E2E2" stroke-width="0.7"/>
<line x1="404.75" y1="174.22" x2="545.4" y2="174.22" stroke="#E2E2E2" stroke-width="0.7"/>
<line x1="404.75" y1="178.13" x2="545.4" y2="178.13" stroke="#E2E2E2" stroke-width="0.7"/>
<line x1="404.75" y1="182.05" x2="545.4" y2="182.05" stroke="#E2E2E2" stroke-width="0.7"/>
<line x1="404.75" y1="185.96" x2="545.4" y2="185.96" stroke="#E2E2E2" stroke-width="0.7"/>
<line x1="404.75" y1="189.88" x2="545.4" y2="189.88" stroke="#E2E2E2" stroke-width="0.7"/>
<line x1="404.75" y1="193.79" x2="545.4" y2="193.79" stroke="#E2E2E2" stroke-width="0.7"/>
<line x1="404.75" y1="197.71" x2="545.4" y2="197.71" stroke="#E2E2E2" stroke-width="0.7"/>
<rect x="481.1" y="129.58" width="58.00" height="3.13" fill="#00FF00"/>
<line x1="546" y1="131.15" x2="547.6" y2="131.15" stroke="#2a2a2a" stroke-width="0.9"/>
<text transform="translate(551.00,132.60) rotate(0.1) scale(0.25)" style="font-size:19.68px">Human Diseases</text>
<rect x="512.3" y="133.50" width="26.80" height="3.13" fill="#00FF00"/>
<line x1="546" y1="135.07" x2="547.6" y2="135.07" stroke="#2a2a2a" stroke-width="0.9"/>
<text transform="translate(551.00,136.52) rotate(0.1) scale(0.25)" style="font-size:19.68px">Cancer: overview</text>
<rect x="513.6" y="137.41" width="25.50" height="3.13" fill="#00FF00"/>
<line x1="546" y1="138.98" x2="547.6" y2="138.98" stroke="#2a2a2a" stroke-width="0.9"/>
<text transform="translate(551.00,140.43) rotate(0.1) scale(0.25)" style="font-size:19.68px">Infectious disease: viral</text>
<rect x="514.8" y="141.33" width="24.30" height="3.13" fill="#00FF00"/>
<line x1="546" y1="142.90" x2="547.6" y2="142.90" stroke="#2a2a2a" stroke-width="0.9"/>
<text transform="translate(551.00,144.35) rotate(0.1) scale(0.25)" style="font-size:19.68px">Infectious disease: bacterial</text>
<rect x="521.4" y="145.25" width="17.70" height="3.13" fill="#00FF00"/>
<line x1="546" y1="146.81" x2="547.6" y2="146.81" stroke="#2a2a2a" stroke-width="0.9"/>
<text transform="translate(551.00,148.26) rotate(0.1) scale(0.25)" style="font-size:19.68px">Cardiovascular disease</text>
<rect x="525.0" y="149.16" width="14.10" height="3.13" fill="#00FF00"/>
<line x1="546" y1="150.73" x2="547.6" y2="150.73" stroke="#2a2a2a" stroke-width="0.9"/>
<text transform="translate(551.00,152.18) rotate(0.1) scale(0.25)" style="font-size:19.68px">Neurodegenerative disease</text>
<rect x="528.7" y="153.07" width="10.40" height="3.13" fill="#00FF00"/>
<line x1="546" y1="154.64" x2="547.6" y2="154.64" stroke="#2a2a2a" stroke-width="0.9"/>
<text transform="translate(551.00,156.09) rotate(0.1) scale(0.25)" style="font-size:19.68px">Infectious disease: parasitic</text>
<rect x="529.2" y="156.99" width="9.90" height="3.13" fill="#00FF00"/>
<line x1="546" y1="158.56" x2="547.6" y2="158.56" stroke="#2a2a2a" stroke-width="0.9"/>
<text transform="translate(551.00,160.01) rotate(0.1) scale(0.25)" style="font-size:19.68px">Endocrine and metabolic disease</text>
<rect x="529.8" y="160.91" width="9.30" height="3.13" fill="#00FF00"/>
<line x1="546" y1="162.47" x2="547.6" y2="162.47" stroke="#2a2a2a" stroke-width="0.9"/>
<text transform="translate(551.00,163.92) rotate(0.1) scale(0.25)" style="font-size:19.68px">Pathogenic Escherichia coli infection</text>
<rect x="530.2" y="164.82" width="8.90" height="3.13" fill="#00FF00"/>
<line x1="546" y1="166.39" x2="547.6" y2="166.39" stroke="#2a2a2a" stroke-width="0.9"/>
<text transform="translate(551.00,167.84) rotate(0.1) scale(0.25)" style="font-size:19.68px">Cancer: specific types</text>
<rect x="530.4" y="168.73" width="8.70" height="3.13" fill="#00FF00"/>
<line x1="546" y1="170.30" x2="547.6" y2="170.30" stroke="#2a2a2a" stroke-width="0.9"/>
<text transform="translate(551.00,171.75) rotate(0.1) scale(0.25)" style="font-size:19.68px">Coronavirus disease − COVID−</text>
<rect x="530.6" y="172.65" width="8.50" height="3.13" fill="#00FF00"/>
<line x1="546" y1="174.22" x2="547.6" y2="174.22" stroke="#2a2a2a" stroke-width="0.9"/>
<text transform="translate(551.00,175.67) rotate(0.1) scale(0.25)" style="font-size:19.68px">Immune disease</text>
<rect x="531.0" y="176.56" width="8.10" height="3.13" fill="#00FF00"/>
<line x1="546" y1="178.13" x2="547.6" y2="178.13" stroke="#2a2a2a" stroke-width="0.9"/>
<text transform="translate(551.00,179.58) rotate(0.1) scale(0.25)" style="font-size:19.68px">Pathways of neurodegeneration − multiple diseases</text>
<rect x="531.2" y="180.48" width="7.90" height="3.13" fill="#00FF00"/>
<line x1="546" y1="182.05" x2="547.6" y2="182.05" stroke="#2a2a2a" stroke-width="0.9"/>
<text transform="translate(551.00,183.50) rotate(0.1) scale(0.25)" style="font-size:19.68px">Pathways in cancer</text>
<rect x="531.4" y="184.40" width="7.70" height="3.13" fill="#00FF00"/>
<line x1="546" y1="185.96" x2="547.6" y2="185.96" stroke="#2a2a2a" stroke-width="0.9"/>
<text transform="translate(551.00,187.41) rotate(0.1) scale(0.25)" style="font-size:19.68px">Epstein−Barr virus infection</text>
<rect x="531.8" y="188.31" width="7.30" height="3.13" fill="#00FF00"/>
<line x1="546" y1="189.88" x2="547.6" y2="189.88" stroke="#2a2a2a" stroke-width="0.9"/>
<text transform="translate(551.00,191.33) rotate(0.1) scale(0.25)" style="font-size:19.68px">Tuberculosis</text>
<rect x="532.0" y="192.22" width="7.10" height="3.13" fill="#00FF00"/>
<line x1="546" y1="193.79" x2="547.6" y2="193.79" stroke="#2a2a2a" stroke-width="0.9"/>
<text transform="translate(551.00,195.24) rotate(0.1) scale(0.25)" style="font-size:19.68px">Amyotrophic lateral sclerosis</text>
<rect x="532.2" y="196.14" width="6.90" height="3.13" fill="#00FF00"/>
<line x1="546" y1="197.71" x2="547.6" y2="197.71" stroke="#2a2a2a" stroke-width="0.9"/>
<text transform="translate(551.00,199.16) rotate(0.1) scale(0.25)" style="font-size:19.68px">Yersinia infection</text>
<rect x="404.75" y="128.80" width="140.65" height="71.25" fill="none" stroke="#707070" stroke-width="0.9"/>
<rect x="395.5" y="128.80" width="9.25" height="71.25" fill="#D9D9D9" stroke="#707070" stroke-width="0.9"/>
<rect x="404.75" y="203.00" width="140.65" height="71.25" fill="#fff"/>
<line x1="539.10" y1="203.00" x2="539.10" y2="274.26" stroke="#E2E2E2" stroke-width="0.7"/>
<line x1="516.60" y1="203.00" x2="516.60" y2="274.26" stroke="#E2E2E2" stroke-width="0.45"/>
<line x1="494.10" y1="203.00" x2="494.10" y2="274.26" stroke="#E2E2E2" stroke-width="0.7"/>
<line x1="471.60" y1="203.00" x2="471.60" y2="274.26" stroke="#E2E2E2" stroke-width="0.45"/>
<line x1="449.10" y1="203.00" x2="449.10" y2="274.26" stroke="#E2E2E2" stroke-width="0.7"/>
<line x1="426.60" y1="203.00" x2="426.60" y2="274.26" stroke="#E2E2E2" stroke-width="0.45"/>
<line x1="404.75" y1="205.35" x2="545.4" y2="205.35" stroke="#E2E2E2" stroke-width="0.7"/>
<line x1="404.75" y1="209.27" x2="545.4" y2="209.27" stroke="#E2E2E2" stroke-width="0.7"/>
<line x1="404.75" y1="213.18" x2="545.4" y2="213.18" stroke="#E2E2E2" stroke-width="0.7"/>
<line x1="404.75" y1="217.10" x2="545.4" y2="217.10" stroke="#E2E2E2" stroke-width="0.7"/>
<line x1="404.75" y1="221.01" x2="545.4" y2="221.01" stroke="#E2E2E2" stroke-width="0.7"/>
<line x1="404.75" y1="224.93" x2="545.4" y2="224.93" stroke="#E2E2E2" stroke-width="0.7"/>
<line x1="404.75" y1="228.84" x2="545.4" y2="228.84" stroke="#E2E2E2" stroke-width="0.7"/>
<line x1="404.75" y1="232.76" x2="545.4" y2="232.76" stroke="#E2E2E2" stroke-width="0.7"/>
<line x1="404.75" y1="236.67" x2="545.4" y2="236.67" stroke="#E2E2E2" stroke-width="0.7"/>
<line x1="404.75" y1="240.59" x2="545.4" y2="240.59" stroke="#E2E2E2" stroke-width="0.7"/>
<line x1="404.75" y1="244.50" x2="545.4" y2="244.50" stroke="#E2E2E2" stroke-width="0.7"/>
<line x1="404.75" y1="248.42" x2="545.4" y2="248.42" stroke="#E2E2E2" stroke-width="0.7"/>
<line x1="404.75" y1="252.33" x2="545.4" y2="252.33" stroke="#E2E2E2" stroke-width="0.7"/>
<line x1="404.75" y1="256.25" x2="545.4" y2="256.25" stroke="#E2E2E2" stroke-width="0.7"/>
<line x1="404.75" y1="260.16" x2="545.4" y2="260.16" stroke="#E2E2E2" stroke-width="0.7"/>
<line x1="404.75" y1="264.08" x2="545.4" y2="264.08" stroke="#E2E2E2" stroke-width="0.7"/>
<line x1="404.75" y1="267.99" x2="545.4" y2="267.99" stroke="#E2E2E2" stroke-width="0.7"/>
<line x1="404.75" y1="271.91" x2="545.4" y2="271.91" stroke="#E2E2E2" stroke-width="0.7"/>
<rect x="512.7" y="203.79" width="26.40" height="3.13" fill="#0000FF"/>
<line x1="546" y1="205.35" x2="547.6" y2="205.35" stroke="#2a2a2a" stroke-width="0.9"/>
<text transform="translate(551.00,206.80) rotate(0.1) scale(0.25)" style="font-size:19.68px">Metabolism</text>
<rect x="532.1" y="207.70" width="7.00" height="3.13" fill="#0000FF"/>
<line x1="546" y1="209.27" x2="547.6" y2="209.27" stroke="#2a2a2a" stroke-width="0.9"/>
<text transform="translate(551.00,210.72) rotate(0.1) scale(0.25)" style="font-size:19.68px">Carbohydrate metabolism</text>
<rect x="532.7" y="211.62" width="6.40" height="3.13" fill="#0000FF"/>
<line x1="546" y1="213.18" x2="547.6" y2="213.18" stroke="#2a2a2a" stroke-width="0.9"/>
<text transform="translate(551.00,214.63) rotate(0.1) scale(0.25)" style="font-size:19.68px">Amino acid metabolism</text>
<rect x="533.1" y="215.53" width="6.00" height="3.13" fill="#0000FF"/>
<line x1="546" y1="217.10" x2="547.6" y2="217.10" stroke="#2a2a2a" stroke-width="0.9"/>
<text transform="translate(551.00,218.55) rotate(0.1) scale(0.25)" style="font-size:19.68px">Lipid metabolism</text>
<rect x="534.4" y="219.45" width="4.70" height="3.13" fill="#0000FF"/>
<line x1="546" y1="221.01" x2="547.6" y2="221.01" stroke="#2a2a2a" stroke-width="0.9"/>
<text transform="translate(551.00,222.46) rotate(0.1) scale(0.25)" style="font-size:19.68px">Metabolism of cofactors and vitamins</text>
<rect x="535.9" y="223.36" width="3.20" height="3.13" fill="#0000FF"/>
<line x1="546" y1="224.93" x2="547.6" y2="224.93" stroke="#2a2a2a" stroke-width="0.9"/>
<text transform="translate(551.00,226.38) rotate(0.1) scale(0.25)" style="font-size:19.68px">Energy metabolism</text>
<rect x="536.3" y="227.28" width="2.80" height="3.13" fill="#0000FF"/>
<line x1="546" y1="228.84" x2="547.6" y2="228.84" stroke="#2a2a2a" stroke-width="0.9"/>
<text transform="translate(551.00,230.29) rotate(0.1) scale(0.25)" style="font-size:19.68px">Glycan biosynthesis and metabolism</text>
<rect x="536.7" y="231.19" width="2.40" height="3.13" fill="#0000FF"/>
<line x1="546" y1="232.76" x2="547.6" y2="232.76" stroke="#2a2a2a" stroke-width="0.9"/>
<text transform="translate(551.00,234.21) rotate(0.1) scale(0.25)" style="font-size:19.68px">Xenobiotics biodegradation and metabolism</text>
<rect x="536.9" y="235.11" width="2.20" height="3.13" fill="#0000FF"/>
<line x1="546" y1="236.67" x2="547.6" y2="236.67" stroke="#2a2a2a" stroke-width="0.9"/>
<text transform="translate(551.00,238.12) rotate(0.1) scale(0.25)" style="font-size:19.68px">Metabolism of other amino acids</text>
<rect x="537.0" y="239.02" width="2.10" height="3.13" fill="#0000FF"/>
<line x1="546" y1="240.59" x2="547.6" y2="240.59" stroke="#2a2a2a" stroke-width="0.9"/>
<text transform="translate(551.00,242.04) rotate(0.1) scale(0.25)" style="font-size:19.68px">Nucleotide metabolism</text>
<rect x="537.1" y="242.94" width="2.00" height="3.13" fill="#0000FF"/>
<line x1="546" y1="244.50" x2="547.6" y2="244.50" stroke="#2a2a2a" stroke-width="0.9"/>
<text transform="translate(551.00,245.95) rotate(0.1) scale(0.25)" style="font-size:19.68px">Oxidative phosphorylation</text>
<rect x="537.2" y="246.85" width="1.90" height="3.13" fill="#0000FF"/>
<line x1="546" y1="248.42" x2="547.6" y2="248.42" stroke="#2a2a2a" stroke-width="0.9"/>
<text transform="translate(551.00,249.87) rotate(0.1) scale(0.25)" style="font-size:19.68px">Valine, leucine and isoleucine degradation</text>
<rect x="537.3" y="250.77" width="1.80" height="3.13" fill="#0000FF"/>
<line x1="546" y1="252.33" x2="547.6" y2="252.33" stroke="#2a2a2a" stroke-width="0.9"/>
<text transform="translate(551.00,253.78) rotate(0.1) scale(0.25)" style="font-size:19.68px">Purine metabolism</text>
<rect x="537.3" y="254.68" width="1.80" height="3.13" fill="#0000FF"/>
<line x1="546" y1="256.25" x2="547.6" y2="256.25" stroke="#2a2a2a" stroke-width="0.9"/>
<text transform="translate(551.00,257.70) rotate(0.1) scale(0.25)" style="font-size:19.68px">Glycolysis / Gluconeogenesis</text>
<rect x="537.4" y="258.60" width="1.70" height="3.13" fill="#0000FF"/>
<line x1="546" y1="260.16" x2="547.6" y2="260.16" stroke="#2a2a2a" stroke-width="0.9"/>
<text transform="translate(551.00,261.61) rotate(0.1) scale(0.25)" style="font-size:19.68px">Drug metabolism − other enzymes</text>
<rect x="537.5" y="262.51" width="1.60" height="3.13" fill="#0000FF"/>
<line x1="546" y1="264.08" x2="547.6" y2="264.08" stroke="#2a2a2a" stroke-width="0.9"/>
<text transform="translate(551.00,265.53) rotate(0.1) scale(0.25)" style="font-size:19.68px">Retinol metabolism</text>
<rect x="537.5" y="266.43" width="1.60" height="3.13" fill="#0000FF"/>
<line x1="546" y1="267.99" x2="547.6" y2="267.99" stroke="#2a2a2a" stroke-width="0.9"/>
<text transform="translate(551.00,269.44) rotate(0.1) scale(0.25)" style="font-size:19.68px">Tryptophan metabolism</text>
<rect x="537.6" y="270.34" width="1.50" height="3.13" fill="#0000FF"/>
<line x1="546" y1="271.91" x2="547.6" y2="271.91" stroke="#2a2a2a" stroke-width="0.9"/>
<text transform="translate(551.00,273.36) rotate(0.1) scale(0.25)" style="font-size:19.68px">Drug metabolism − cytochrome P</text>
<rect x="404.75" y="203.00" width="140.65" height="71.25" fill="none" stroke="#707070" stroke-width="0.9"/>
<rect x="395.5" y="203.00" width="9.25" height="71.25" fill="#D9D9D9" stroke="#707070" stroke-width="0.9"/>
<rect x="404.75" y="277.21" width="140.65" height="67.34" fill="#fff"/>
<line x1="539.10" y1="277.21" x2="539.10" y2="344.55" stroke="#E2E2E2" stroke-width="0.7"/>
<line x1="516.60" y1="277.21" x2="516.60" y2="344.55" stroke="#E2E2E2" stroke-width="0.45"/>
<line x1="494.10" y1="277.21" x2="494.10" y2="344.55" stroke="#E2E2E2" stroke-width="0.7"/>
<line x1="471.60" y1="277.21" x2="471.60" y2="344.55" stroke="#E2E2E2" stroke-width="0.45"/>
<line x1="449.10" y1="277.21" x2="449.10" y2="344.55" stroke="#E2E2E2" stroke-width="0.7"/>
<line x1="426.60" y1="277.21" x2="426.60" y2="344.55" stroke="#E2E2E2" stroke-width="0.45"/>
<line x1="404.75" y1="279.56" x2="545.4" y2="279.56" stroke="#E2E2E2" stroke-width="0.7"/>
<line x1="404.75" y1="283.47" x2="545.4" y2="283.47" stroke="#E2E2E2" stroke-width="0.7"/>
<line x1="404.75" y1="287.39" x2="545.4" y2="287.39" stroke="#E2E2E2" stroke-width="0.7"/>
<line x1="404.75" y1="291.30" x2="545.4" y2="291.30" stroke="#E2E2E2" stroke-width="0.7"/>
<line x1="404.75" y1="295.22" x2="545.4" y2="295.22" stroke="#E2E2E2" stroke-width="0.7"/>
<line x1="404.75" y1="299.13" x2="545.4" y2="299.13" stroke="#E2E2E2" stroke-width="0.7"/>
<line x1="404.75" y1="303.05" x2="545.4" y2="303.05" stroke="#E2E2E2" stroke-width="0.7"/>
<line x1="404.75" y1="306.96" x2="545.4" y2="306.96" stroke="#E2E2E2" stroke-width="0.7"/>
<line x1="404.75" y1="310.88" x2="545.4" y2="310.88" stroke="#E2E2E2" stroke-width="0.7"/>
<line x1="404.75" y1="314.79" x2="545.4" y2="314.79" stroke="#E2E2E2" stroke-width="0.7"/>
<line x1="404.75" y1="318.71" x2="545.4" y2="318.71" stroke="#E2E2E2" stroke-width="0.7"/>
<line x1="404.75" y1="322.62" x2="545.4" y2="322.62" stroke="#E2E2E2" stroke-width="0.7"/>
<line x1="404.75" y1="326.54" x2="545.4" y2="326.54" stroke="#E2E2E2" stroke-width="0.7"/>
<line x1="404.75" y1="330.45" x2="545.4" y2="330.45" stroke="#E2E2E2" stroke-width="0.7"/>
<line x1="404.75" y1="334.37" x2="545.4" y2="334.37" stroke="#E2E2E2" stroke-width="0.7"/>
<line x1="404.75" y1="338.28" x2="545.4" y2="338.28" stroke="#E2E2E2" stroke-width="0.7"/>
<line x1="404.75" y1="342.20" x2="545.4" y2="342.20" stroke="#E2E2E2" stroke-width="0.7"/>
<rect x="490.3" y="277.99" width="48.80" height="3.13" fill="#B284FF"/>
<line x1="546" y1="279.56" x2="547.6" y2="279.56" stroke="#2a2a2a" stroke-width="0.9"/>
<text transform="translate(551.00,281.01) rotate(0.1) scale(0.25)" style="font-size:19.68px">Organismal Systems</text>
<rect x="514.1" y="281.91" width="25.00" height="3.13" fill="#B284FF"/>
<line x1="546" y1="283.47" x2="547.6" y2="283.47" stroke="#2a2a2a" stroke-width="0.9"/>
<text transform="translate(551.00,284.92) rotate(0.1) scale(0.25)" style="font-size:19.68px">Immune system</text>
<rect x="522.8" y="285.82" width="16.30" height="3.13" fill="#B284FF"/>
<line x1="546" y1="287.39" x2="547.6" y2="287.39" stroke="#2a2a2a" stroke-width="0.9"/>
<text transform="translate(551.00,288.84) rotate(0.1) scale(0.25)" style="font-size:19.68px">Endocrine system</text>
<rect x="530.3" y="289.74" width="8.80" height="3.13" fill="#B284FF"/>
<line x1="546" y1="291.30" x2="547.6" y2="291.30" stroke="#2a2a2a" stroke-width="0.9"/>
<text transform="translate(551.00,292.75) rotate(0.1) scale(0.25)" style="font-size:19.68px">Digestive system</text>
<rect x="531.6" y="293.65" width="7.50" height="3.13" fill="#B284FF"/>
<line x1="546" y1="295.22" x2="547.6" y2="295.22" stroke="#2a2a2a" stroke-width="0.9"/>
<text transform="translate(551.00,296.67) rotate(0.1) scale(0.25)" style="font-size:19.68px">Neutrophil extracellular trap formation</text>
<rect x="532.1" y="297.57" width="7.00" height="3.13" fill="#B284FF"/>
<line x1="546" y1="299.13" x2="547.6" y2="299.13" stroke="#2a2a2a" stroke-width="0.9"/>
<text transform="translate(551.00,300.58) rotate(0.1) scale(0.25)" style="font-size:19.68px">Nervous system</text>
<rect x="532.9" y="301.48" width="6.20" height="3.13" fill="#B284FF"/>
<line x1="546" y1="303.05" x2="547.6" y2="303.05" stroke="#2a2a2a" stroke-width="0.9"/>
<text transform="translate(551.00,304.50) rotate(0.1) scale(0.25)" style="font-size:19.68px">Circulatory system</text>
<rect x="533.3" y="305.40" width="5.80" height="3.13" fill="#B284FF"/>
<line x1="546" y1="306.96" x2="547.6" y2="306.96" stroke="#2a2a2a" stroke-width="0.9"/>
<text transform="translate(551.00,308.41) rotate(0.1) scale(0.25)" style="font-size:19.68px">Fc gamma R−mediated phagocytosis</text>
<rect x="533.5" y="309.31" width="5.60" height="3.13" fill="#B284FF"/>
<line x1="546" y1="310.88" x2="547.6" y2="310.88" stroke="#2a2a2a" stroke-width="0.9"/>
<text transform="translate(551.00,312.33) rotate(0.1) scale(0.25)" style="font-size:19.68px">Natural killer cell mediated cytotoxicity</text>
<rect x="534.0" y="313.23" width="5.10" height="3.13" fill="#B284FF"/>
<line x1="546" y1="314.79" x2="547.6" y2="314.79" stroke="#2a2a2a" stroke-width="0.9"/>
<text transform="translate(551.00,316.24) rotate(0.1) scale(0.25)" style="font-size:19.68px">Hematopoietic cell lineage</text>
<rect x="534.0" y="317.14" width="5.10" height="3.13" fill="#B284FF"/>
<line x1="546" y1="318.71" x2="547.6" y2="318.71" stroke="#2a2a2a" stroke-width="0.9"/>
<text transform="translate(551.00,320.16) rotate(0.1) scale(0.25)" style="font-size:19.68px">B cell receptor signaling pathway</text>
<rect x="534.2" y="321.06" width="4.90" height="3.13" fill="#B284FF"/>
<line x1="546" y1="322.62" x2="547.6" y2="322.62" stroke="#2a2a2a" stroke-width="0.9"/>
<text transform="translate(551.00,324.07) rotate(0.1) scale(0.25)" style="font-size:19.68px">Development and regeneration</text>
<rect x="534.4" y="324.97" width="4.70" height="3.13" fill="#B284FF"/>
<line x1="546" y1="326.54" x2="547.6" y2="326.54" stroke="#2a2a2a" stroke-width="0.9"/>
<text transform="translate(551.00,327.99) rotate(0.1) scale(0.25)" style="font-size:19.68px">Environmental adaptation</text>
<rect x="534.6" y="328.89" width="4.50" height="3.13" fill="#B284FF"/>
<line x1="546" y1="330.45" x2="547.6" y2="330.45" stroke="#2a2a2a" stroke-width="0.9"/>
<text transform="translate(551.00,331.90) rotate(0.1) scale(0.25)" style="font-size:19.68px">Fc epsilon RI signaling pathway</text>
<rect x="534.8" y="332.80" width="4.30" height="3.13" fill="#B284FF"/>
<line x1="546" y1="334.37" x2="547.6" y2="334.37" stroke="#2a2a2a" stroke-width="0.9"/>
<text transform="translate(551.00,335.82) rotate(0.1) scale(0.25)" style="font-size:19.68px">Intestinal immune network for IgA production</text>
<rect x="535.0" y="336.72" width="4.10" height="3.13" fill="#B284FF"/>
<line x1="546" y1="338.28" x2="547.6" y2="338.28" stroke="#2a2a2a" stroke-width="0.9"/>
<text transform="translate(551.00,339.73) rotate(0.1) scale(0.25)" style="font-size:19.68px">Platelet activation</text>
<rect x="535.2" y="340.63" width="3.90" height="3.13" fill="#B284FF"/>
<line x1="546" y1="342.20" x2="547.6" y2="342.20" stroke="#2a2a2a" stroke-width="0.9"/>
<text transform="translate(551.00,343.65) rotate(0.1) scale(0.25)" style="font-size:19.68px">Vascular smooth muscle contraction</text>
<rect x="404.75" y="277.21" width="140.65" height="67.34" fill="none" stroke="#707070" stroke-width="0.9"/>
<rect x="395.5" y="277.21" width="9.25" height="67.34" fill="#D9D9D9" stroke="#707070" stroke-width="0.9"/>
<line x1="449.4" y1="344.55" x2="449.4" y2="346.15" stroke="#2a2a2a" stroke-width="0.9"/>
<text transform="translate(449.40,350.40) rotate(0.1) scale(0.25)" style="font-size:19.68px" text-anchor="middle">10000</text>
<line x1="494.6" y1="344.55" x2="494.6" y2="346.15" stroke="#2a2a2a" stroke-width="0.9"/>
<text transform="translate(494.60,350.40) rotate(0.1) scale(0.25)" style="font-size:19.68px" text-anchor="middle">5000</text>
<line x1="539.3" y1="344.55" x2="539.3" y2="346.15" stroke="#2a2a2a" stroke-width="0.9"/>
<text transform="translate(539.30,350.40) rotate(0.1) scale(0.25)" style="font-size:19.68px" text-anchor="middle">0</text>
<text transform="translate(472.00,359.40) rotate(0.1) scale(0.25)" style="font-size:24.00px" text-anchor="middle">Gene Number</text>
<text transform="translate(680.00,172.50) rotate(90.1) scale(0.25)" style="font-size:24.00px" text-anchor="middle">KEGG term</text>
<text transform="translate(294.80,88.00) rotate(0.1) scale(0.25)" style="font-size:24.00px">GO category</text>
<rect x="295.2" y="92.20" width="8.6" height="8.6" fill="#FF0000"/>
<text transform="translate(307.80,98.10) rotate(0.1) scale(0.25)" style="font-size:19.68px">Biological Process</text>
<rect x="295.2" y="101.58" width="8.6" height="8.6" fill="#00FF00"/>
<text transform="translate(307.80,107.48) rotate(0.1) scale(0.25)" style="font-size:19.68px">Cellular Component</text>
<rect x="295.2" y="110.96" width="8.6" height="8.6" fill="#0000FF"/>
<text transform="translate(307.80,116.86) rotate(0.1) scale(0.25)" style="font-size:19.68px">Molecular Function</text>
<text transform="translate(382.00,168.50) rotate(0.1) scale(0.25)" style="font-size:24.00px" text-anchor="end">KEGG Pathway</text>
<rect x="373.2" y="171.20" width="8.7" height="8.6" fill="#FF0000"/>
<text transform="translate(370.80,177.10) rotate(0.1) scale(0.25)" style="font-size:19.68px" text-anchor="end">Brite Hierarchies</text>
<rect x="373.2" y="180.58" width="8.7" height="8.6" fill="#FF8000"/>
<text transform="translate(370.80,186.48) rotate(0.1) scale(0.25)" style="font-size:19.68px" text-anchor="end">Cellular Processes</text>
<rect x="373.2" y="189.96" width="8.7" height="8.6" fill="#FFFF00"/>
<text transform="translate(370.80,195.86) rotate(0.1) scale(0.25)" style="font-size:19.68px" text-anchor="end">Environmental Information Processing</text>
<rect x="373.2" y="199.34" width="8.7" height="8.6" fill="#80FF00"/>
<text transform="translate(370.80,205.24) rotate(0.1) scale(0.25)" style="font-size:19.68px" text-anchor="end">Genetic Information Processing</text>
<rect x="373.2" y="208.72" width="8.7" height="8.6" fill="#00FF00"/>
<text transform="translate(370.80,214.62) rotate(0.1) scale(0.25)" style="font-size:19.68px" text-anchor="end">Human Diseases</text>
<rect x="373.2" y="218.10" width="8.7" height="8.6" fill="#0000FF"/>
<text transform="translate(370.80,224.00) rotate(0.1) scale(0.25)" style="font-size:19.68px" text-anchor="end">Metabolism</text>
<rect x="373.2" y="227.48" width="8.7" height="8.6" fill="#B284FF"/>
<text transform="translate(370.80,233.38) rotate(0.1) scale(0.25)" style="font-size:19.68px" text-anchor="end">Organismal Systems</text>
</svg></body></html>
